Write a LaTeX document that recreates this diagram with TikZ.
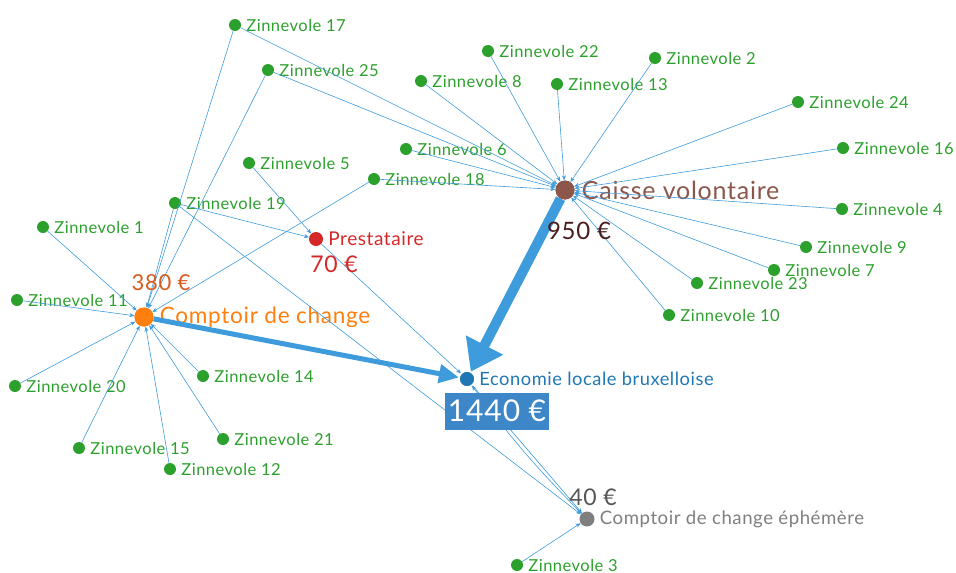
\documentclass[tikz,border=0pt]{standalone}
\usepackage{fontspec}
\setmainfont{Lato}
\newfontfamily\lbl[LetterSpace=3]{Lato}
\usetikzlibrary{arrows.meta}
\definecolor{zgreen}{HTML}{2CA02C}
\definecolor{corange}{HTML}{FF7F0E}
\definecolor{cbrown}{HTML}{8C564B}
\definecolor{cred}{HTML}{D62728}
\definecolor{cblue}{HTML}{1F77B4}
\definecolor{cgray}{HTML}{7F7F7F}
\definecolor{flowblue}{HTML}{3E9BDC}
\definecolor{amtorange}{HTML}{D95A1E}
\definecolor{amtbrown}{HTML}{4A1E1E}
\definecolor{amtgray}{HTML}{555555}
\definecolor{boxblue}{HTML}{3D86C8}
\tikzset{
  dot/.style={circle,inner sep=0pt,minimum size=#1},
  lab/.style={anchor=west,inner sep=0pt},
  zin/.style={dot=12pt,fill=zgreen,label={[lab,text=zgreen,font=\lbl\fontsize{16.5}{16.5}\selectfont,label distance=5pt]right:#1}},
  flow/.style={draw=flowblue,line width=0.6pt,-{Stealth[length=5pt,width=4pt]}},
  amt/.style={font=\lbl\fontsize{23}{23}\selectfont}
}
\begin{document}
\begin{tikzpicture}[x=1pt,y=-1pt]
\useasboundingbox (0,0) rectangle (956,573);
% main nodes
\node[dot=19pt,fill=cbrown,label={[lab,text=cbrown,font=\lbl\fontsize{25}{25}\selectfont,label distance=7pt]right:Caisse volontaire}] (caisse) at (565,190) {};
\node[dot=19pt,fill=corange,label={[lab,text=corange,font=\lbl\fontsize{22.6}{22.6}\selectfont,label distance=6pt]right:Comptoir de change}] (comptoir) at (144,317) {};
\node[dot=14pt,fill=cred,label={[lab,text=cred,font=\lbl\fontsize{19}{19}\selectfont,label distance=5pt]right:Prestataire}] (prest) at (316,239) {};
\node[dot=16pt,fill=cblue,label={[lab,text=cblue,font=\lbl\fontsize{18.3}{18.3}\selectfont,label distance=4pt]right:Economie locale bruxelloise}] (eco) at (467,379) {};
\node[dot=15pt,fill=cgray,label={[lab,text=cgray,font=\lbl\fontsize{18.6}{18.6}\selectfont,label distance=5pt]right:Comptoir de change éphémère}] (ephem) at (587,519) {};
% green nodes
\node[zin={Zinnevole 17}] (z17) at (235,25) {};
\node[zin={Zinnevole 25}] (z25) at (268,70) {};
\node[zin={Zinnevole 22}] (z22) at (488,51) {};
\node[zin={Zinnevole 2}] (z2) at (655,58) {};
\node[zin={Zinnevole 8}] (z8) at (421,81) {};
\node[zin={Zinnevole 13}] (z13) at (557,84) {};
\node[zin={Zinnevole 24}] (z24) at (798,102) {};
\node[zin={Zinnevole 16}] (z16) at (843,148) {};
\node[zin={Zinnevole 6}] (z6) at (406,149) {};
\node[zin={Zinnevole 5}] (z5) at (249,163) {};
\node[zin={Zinnevole 18}] (z18) at (374,179) {};
\node[zin={Zinnevole 4}] (z4) at (842,209) {};
\node[zin={Zinnevole 19}] (z19) at (175,203) {};
\node[zin={Zinnevole 1}] (z1) at (43,227) {};
\node[zin={Zinnevole 9}] (z9) at (806,247) {};
\node[zin={Zinnevole 7}] (z7) at (774,270) {};
\node[zin={Zinnevole 23}] (z23) at (697,283) {};
\node[zin={Zinnevole 11}] (z11) at (17,300) {};
\node[zin={Zinnevole 10}] (z10) at (669,315) {};
\node[zin={Zinnevole 14}] (z14) at (203,376) {};
\node[zin={Zinnevole 20}] (z20) at (15,386) {};
\node[zin={Zinnevole 21}] (z21) at (223,439) {};
\node[zin={Zinnevole 15}] (z15) at (79,448) {};
\node[zin={Zinnevole 12}] (z12) at (170,469) {};
\node[zin={Zinnevole 3}] (z3) at (517,565) {};
% thin flows
\foreach \s in {z17,z25,z19,z18,z1,z11,z20,z15,z12,z21,z14}
  \draw[flow] (\s) -- (comptoir);
\foreach \s in {z17,z25,z8,z6,z18,z22,z13,z2,z24,z16,z4,z9,z7,z23,z10}
  \draw[flow] (\s) -- (caisse);
\draw[flow] (z19) -- (prest);
\draw[flow] (z5) -- (prest);
\draw[flow] (prest) -- (eco);
\draw[flow] (z19) -- (ephem);
\draw[flow] (eco) -- (ephem);
\draw[flow] (ephem) to[bend left=4] (eco);
\draw[flow] (z3) -- (ephem);
% thick flows
\draw[draw=flowblue,line width=5pt,-{Triangle[length=20pt,width=18pt]}] (comptoir) -- (eco);
\draw[draw=flowblue,line width=10pt,-{Triangle[length=30pt,width=40pt]}] (caisse) -- (eco);
% redraw dots on top of arrows
\fill[cbrown] (caisse) circle (9.5pt);
\fill[corange] (comptoir) circle (9.5pt);
\filldraw[fill=cblue,draw=white,line width=1.5pt] (eco) circle (8pt);
% amounts
\node[amt,text=amtorange,font=\lbl\fontsize{22}{22}\selectfont] (a380) at (161,283) {380 €};
\node[amt,text=cred] (a70) at (334,264) {70 €};
\node[amt,text=amtbrown,font=\lbl\fontsize{24}{24}\selectfont] (a950) at (579,231) {950 €};
\node[amt,text=amtgray] (a40) at (593,497) {40 €};
\node[fill=boxblue,text=white,font=\lbl\fontsize{30}{30}\selectfont,minimum width=104pt,minimum height=37pt,inner sep=0pt] (a1440) at (497,411) {1440 €};
\end{tikzpicture}
\end{document}
